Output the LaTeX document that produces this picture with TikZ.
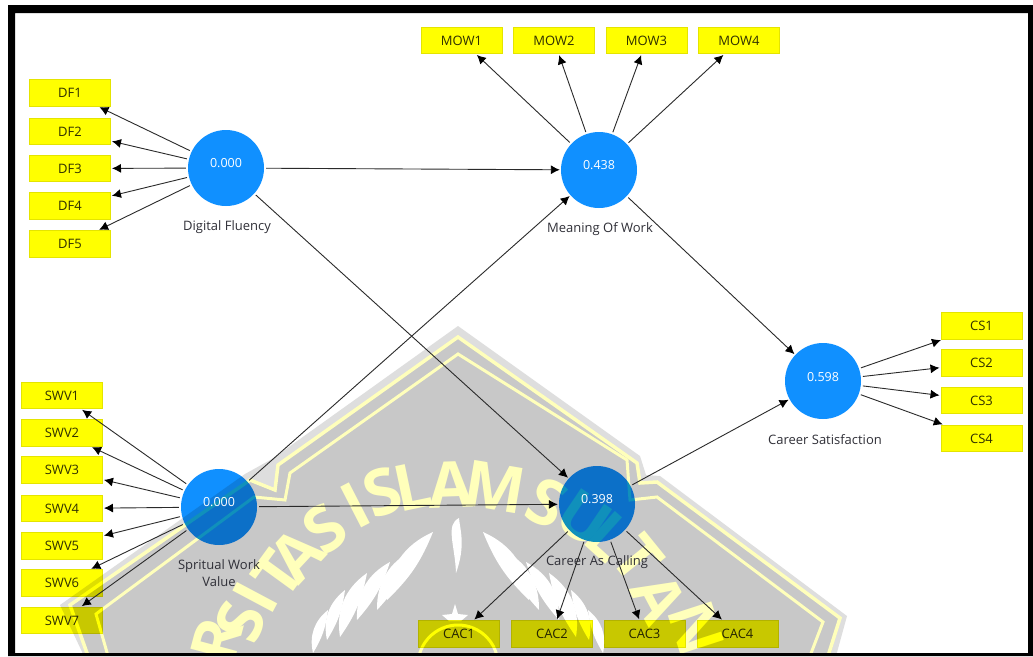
\documentclass[tikz,border=0pt]{standalone}
\usepackage{fontspec}
\setmainfont{Open Sans}
\usetikzlibrary{arrows.meta}
\definecolor{wmgray}{HTML}{C8C8C8}
\definecolor{wmshade}{HTML}{DEDEDE}
\definecolor{wmpale}{HTML}{FFFFBB}
\definecolor{latblue}{HTML}{1090FF}
\definecolor{indfill}{HTML}{FFFF00}
\definecolor{indedge}{HTML}{E4E400}
\definecolor{labtext}{HTML}{303038}
\definecolor{pathline}{HTML}{2A2A2A}

\begin{document}
\begin{tikzpicture}[x=1pt, y=-1pt,
	ind/.style={draw=indedge, line width=1, fill=indfill, blend mode=multiply, minimum width=81, minimum height=26.5, inner sep=0, text=labtext, font=\fontsize{13}{13}\selectfont},
	lat/.style={fill=latblue, blend mode=multiply, circle, minimum size=76, inner sep=0},
	latval/.style={text=white, inner sep=0, font=\fontsize{12.5}{13}\selectfont},
	latname/.style={text=labtext, inner sep=0, align=center, font=\fontsize{13}{17}\selectfont},
	wmletter/.style={text=wmpale, inner sep=0, font=\fontsize{64}{64}\selectfont\bfseries},
	pathto/.style={draw=pathline, line width=0.9, shorten <=2, shorten >=1, -{Latex[length=9, width=9, black]}}
]
\useasboundingbox (0, 0) rectangle (1033, 656);
\fill[white] (0, 0) rectangle (1033, 656);

% watermark
\begin{scope}
\clip (15, 13) rectangle (1028, 653);
\fill[wmshade] (84, 656) -- (60, 605) -- (245, 474) -- (272, 459) --
	(458, 326) -- (640, 456) -- (646, 475) -- (660, 476) -- (847, 616) -- (836, 656) -- cycle;
\fill[wmgray] (90, 656) -- (70, 605) -- (250, 480) -- (275, 490) -- (278, 465) --
	(458, 337) -- (637, 463) -- (640, 483) -- (657, 482) -- (840, 618) -- (830, 656) -- cycle;
\draw[wmpale, line width=3.5, line join=miter] (88, 656) -- (70, 605) -- (250, 480) -- (275, 490) -- (278, 465) --
	(458, 337) -- (637, 463) -- (640, 483) -- (657, 482) -- (840, 618) -- (828, 656);
\draw[wmpale, line width=3] (108, 656) -- (96, 614) -- (254, 497) -- (285, 500) -- (290, 473) --
	(458, 354) -- (627, 460) -- (630, 500) -- (657, 497) -- (823, 622) -- (810, 656);
\foreach \ch/\ang/\rad in {R/-75/250, S/-69/233, I/-62/230, T/-54/223, A/-47/220, S/-37/221, I/-27.2/225, S/-19.6/226, L/-11.9/223, A/-2/220, M/9.6/221, S/23.8/221, U/34/225, L/42/226, T/51/232, A/62/228, N/72/250}
	\node[wmletter, rotate=-\ang] at ({458+\rad*sin(\ang)}, {705-\rad*cos(\ang)}) {\ch};
% leaves
\foreach \flip in {1, -1}
	\foreach \ax/\ay/\bx/\by in {433/532/387/600, 413/550/377/610, 390/562/357/620, 367/573/340/637, 345/590/327/640, 328/610/313/653}
		\fill[white] ({458+\flip*(\ax-458)}, \ay) to[bend right=\flip*32] ({458+\flip*(\bx-458)}, \by) to[bend right=\flip*12] cycle;
\fill[white] (459, 518) .. controls (445, 525) and (455, 545) .. (456, 573) .. controls (466, 545) and (460, 530) .. cycle;
\fill[white] (455, 604) -- (458, 614) -- (468, 615) -- (461, 621) -- (449, 621) -- (442, 615) -- (452, 614) -- cycle;
\draw[wmpale, line width=3] (458, 665) circle (40);
\end{scope}

% latent variables
\node[lat] (df) at (226, 168) {};
\node[lat] (mow) at (599, 170) {};
\node[lat] (swv) at (219, 507) {};
\node[lat] (cac) at (597, 504) {};
\node[lat] (cs) at (823, 381) {};
\node[latval] (dfval) at (226, 163) {0.000};
\node[latval] (mowval) at (599, 165) {0.438};
\node[latval] (swvval) at (219, 502) {0.000};
\node[latval] (cacval) at (597, 499) {0.398};
\node[latval] (csval) at (823, 377) {0.598};

% indicators
\foreach \i/\y in {1/93, 2/131.5, 3/168.5, 4/206, 5/244}
	\node[ind] (df\i) at (70, \y) {DF\i};
\foreach \i/\y in {1/395.5, 2/433, 3/470, 4/508.5, 5/546, 6/583, 7/620.5}
	\node[ind] (swv\i) at (62, \y) {SWV\i};
\foreach \i/\x in {1/461.5, 2/554, 3/646.5, 4/739}
	\node[ind] (mow\i) at (\x, 40.5) {MOW\i};
\foreach \i/\x in {1/459, 2/552, 3/644.5, 4/737.5}
	\node[ind] (cac\i) at (\x, 634) {CAC\i};
\foreach \i/\y in {1/326, 2/363, 3/400.5, 4/438.5}
	\node[ind] (cs\i) at (981.5, \y) {CS\i};

% names, some are cut off by the plot
\node[latname] (dfname) at (227, 227) {Digital Fluency};
\begin{scope}
\clip (500, 215) rectangle (652, 240);
\node[latname] (mowname) at (600, 229) {Meaning Of Work};
\end{scope}
\begin{scope}
\clip (160, 555) rectangle (259, 575);
\node[latname] (swvname) at (219, 566) {Spritual Work};
\end{scope}
\node[latname] (swvname2) at (219, 582) {Value};
\node[latname] (cacname) at (597, 562) {Career As Calling};
\node[latname] (csname) at (825, 440) {Career Satisfaction};

% paths
\foreach \i in {1, ..., 5}
	\draw[pathto] (df) -- (df\i);
\foreach \i in {1, ..., 7}
	\draw[pathto] (swv) -- (swv\i);
\foreach \i in {1, ..., 4} {
	\draw[pathto] (mow) -- (mow\i);
	\draw[pathto] (cac) -- (cac\i);
	\draw[pathto] (cs) -- (cs\i);
}
\draw[pathto] (df) -- (mow);
\draw[pathto] (df) -- (cac);
\draw[pathto] (swv) -- (mow);
\draw[pathto] (swv) -- (cac);
\draw[pathto] (mow) -- (cs);
\draw[pathto] (cac) -- (cs);

% frame
\fill[black, even odd rule] (8, 5) rectangle (1033, 656) (15, 13) rectangle (1028, 653);
\end{tikzpicture}
\end{document}
